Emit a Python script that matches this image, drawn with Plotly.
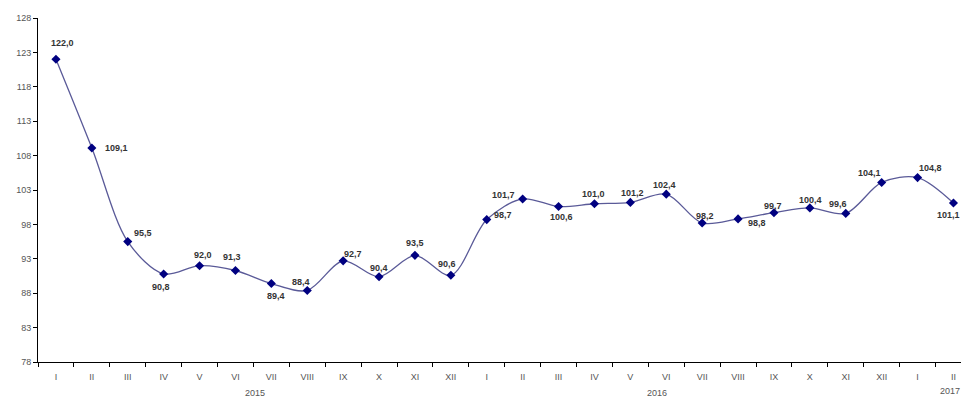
import plotly.graph_objects as go

months = ["I", "II", "III", "IV", "V", "VI", "VII", "VIII", "IX", "X", "XI", "XII",
          "I", "II", "III", "IV", "V", "VI", "VII", "VIII", "IX", "X", "XI", "XII",
          "I", "II"]
values = [122.0, 109.1, 95.5, 90.8, 92.0, 91.3, 89.4, 88.4, 92.7, 90.4, 93.5, 90.6,
          98.7, 101.7, 100.6, 101.0, 101.2, 102.4, 98.2, 98.8, 99.7, 100.4, 99.6, 104.1,
          104.8, 101.1]
years = ["2015", "2016", "2017"]
year_pos = [5.55, 16.75, 24.9]
y_ticks = [78, 83, 88, 93, 98, 103, 108, 113, 118, 123, 128]

# label offsets in pixels (dx, dy downwards) -- styling only
label_off = [(7, -16), (25, 0), (15, -9), (-3, 13), (3, -11), (-3, -14), (5, 12), (-6, -8),
             (10, -7), (0, -9), (0, -12), (-4, -11),
             (16, -5), (-19, -4), (3, 10), (-1, -10), (2, -9), (-2, -9), (3, -7), (19, 4),
             (-1, -7), (1, -8), (-8, -9), (-12, -9), (13, -10), (-5, 12)]
year_yshift = [-38, -38, -36]

x = list(range(len(values)))

fig = go.Figure()
fig.add_trace(go.Scatter(
    x=x, y=values, mode="lines+markers",
    line=dict(color="#5a5a98", width=1.3, shape="spline", smoothing=0.9),
    marker=dict(symbol="diamond", size=7, color="#000080"),
    hoverinfo="skip"
))

annotations = []
for i, v in enumerate(values):
    dx, dy = label_off[i]
    annotations.append(dict(
        x=i, y=v, xref="x", yref="y",
        text="<b>" + ("%.1f" % v).replace(".", ",") + "</b>",
        showarrow=False, xshift=dx, yshift=-dy,
        font=dict(family="Liberation Sans, Arial", size=9, color="#333333"),
    ))
for yr, p, ys in zip(years, year_pos, year_yshift):
    annotations.append(dict(
        x=p, y=0, xref="x", yref="paper", yshift=ys,
        text=yr, showarrow=False,
        font=dict(family="Liberation Sans, Arial", size=9, color="#555555"),
    ))

fig.update_layout(
    width=961, height=398,
    margin=dict(l=38, r=0, t=18, b=36),
    paper_bgcolor="white", plot_bgcolor="white",
    showlegend=False,
    annotations=annotations,
    xaxis=dict(
        range=[-0.5, 25.21],
        tickmode="array", tickvals=x, ticktext=months,
        ticks="", showgrid=False, zeroline=False,
        ticklabelstandoff=6,
        showline=True, linecolor="#000000", linewidth=1,
        tickfont=dict(family="Liberation Sans, Arial", size=9, color="#555555"),
        minor=dict(tickmode="linear", tick0=0.5, dtick=1, ticks="outside",
                   ticklen=4, tickcolor="#000000", showgrid=False),
        fixedrange=True,
    ),
    yaxis=dict(
        range=[78, 128], tickmode="array", tickvals=y_ticks,
        ticks="outside", ticklen=4, tickcolor="#000000",
        showgrid=False, zeroline=False,
        showline=True, linecolor="#000000", linewidth=1,
        tickfont=dict(family="Liberation Sans, Arial", size=9, color="#555555"),
        fixedrange=True,
    ),
)

fig.write_html("out.html", config={"displayModeBar": False})
